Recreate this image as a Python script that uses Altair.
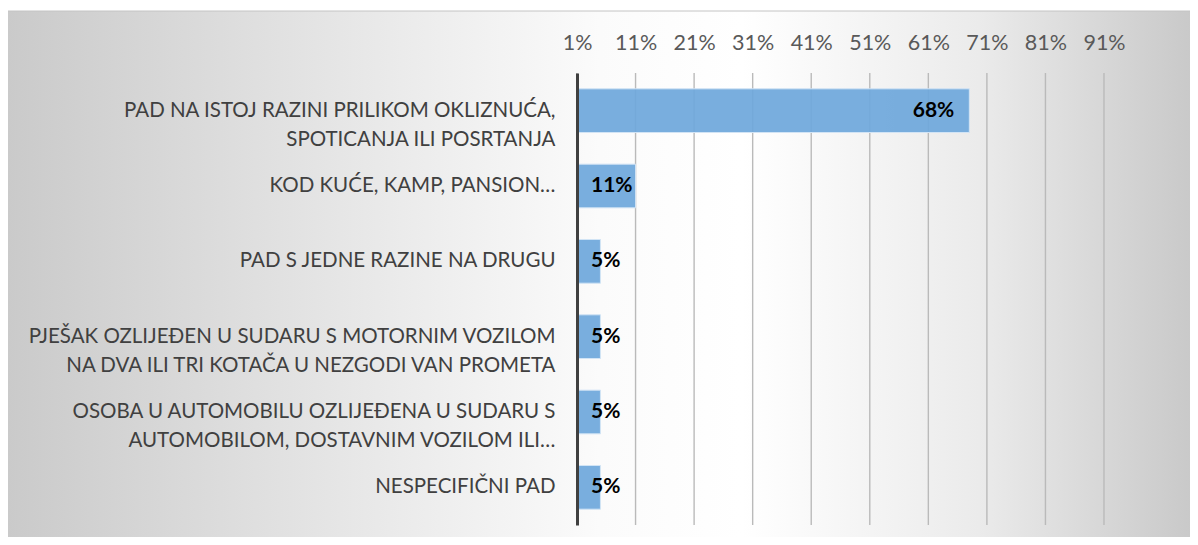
import altair as alt
import pandas as pd

# ---- data ----
categories = [
    "PAD NA ISTOJ RAZINI PRILIKOM OKLIZNUĆA,\nSPOTICANJA ILI POSRTANJA",
    "KOD KUĆE, KAMP, PANSION…",
    "PAD S JEDNE RAZINE NA DRUGU",
    "PJEŠAK OZLIJEĐEN U SUDARU S MOTORNIM VOZILOM\nNA DVA ILI TRI KOTAČA U NEZGODI VAN PROMETA",
    "OSOBA U AUTOMOBILU OZLIJEĐENA U SUDARU S\nAUTOMOBILOM, DOSTAVNIM VOZILOM ILI…",
    "NESPECIFIČNI PAD",
]
values = [68, 11, 5, 5, 5, 5]
tick_values = [1, 11, 21, 31, 41, 51, 61, 71, 81, 91]
axis_min = 1
axis_max = 91

df = pd.DataFrame({"category": categories, "value": values})
ticks_df = pd.DataFrame({"tick": tick_values})
one_df = pd.DataFrame({"k": [0]})

FONT = "Lato"
W, H = 527, 452
PL, PT, PR, PB = 569, 65, 86, 12

xscale = alt.Scale(domain=[axis_min, axis_max], nice=False, zero=False)
yscale = alt.Scale(domain=categories, paddingInner=0.42, paddingOuter=0.21)

x_axis = alt.Axis(
    orient="top", values=tick_values, labelExpr="datum.value + '%'",
    grid=False, domain=False, ticks=False, tickSize=0, title=None,
    labelFont=FONT, labelFontSize=21.5, labelColor="#595959",
    labelPadding=24, labelBaseline="alphabetic", labelFlush=False, zindex=1,
)
y_axis = alt.Axis(
    title=None, domain=True, domainColor="#404040", domainWidth=3,
    ticks=False, tickSize=0, grid=False,
    labelExpr="split(datum.label, '\\n')",
    labelFont=FONT, labelFontSize=20.5, labelColor="#404040",
    labelPadding=22, labelLineHeight=29, labelLimit=0, zindex=1,
)

bg_fill = alt.LinearGradient(
    gradient="linear",
    stops=[
        alt.GradientStop(offset=0.0, color="#cacaca"),
        alt.GradientStop(offset=0.25, color="#e3e3e3"),
        alt.GradientStop(offset=0.5, color="#fbfbfb"),
        alt.GradientStop(offset=0.62, color="#ffffff"),
        alt.GradientStop(offset=0.82, color="#ebebeb"),
        alt.GradientStop(offset=1.0, color="#c9c9c9"),
    ],
    x1=0, x2=1, y1=0.5, y2=0.5,
)

bg = alt.Chart(one_df).mark_rect(fill=bg_fill, stroke="#c4c4c4", strokeWidth=1).encode(
    x=alt.value(-PL - 1), x2=alt.value(W + PR + 2),
    y=alt.value(-PT + 3), y2=alt.value(H + PB + 2),
)

grid = alt.Chart(ticks_df).mark_rule(color="#bababa", strokeWidth=1.4).encode(
    x=alt.X("tick:Q", scale=xscale, axis=x_axis),
)

base = alt.Chart(df)

bars = base.mark_bar(color="#6fa8dc", fillOpacity=0.93, stroke="#d2e4f5", strokeWidth=1).encode(
    x=alt.X("value:Q", scale=xscale, axis=x_axis),
    x2=alt.datum(axis_min),
    y=alt.Y("category:N", scale=yscale, sort=categories, axis=y_axis),
)

labels_big = base.transform_filter("datum.value >= 20").transform_calculate(
    lbl="datum.value + '%'"
).mark_text(align="right", baseline="middle", dx=-15, font=FONT, fontSize=21,
            fontWeight="bold", color="#000000").encode(
    x=alt.X("value:Q", scale=xscale, axis=x_axis),
    y=alt.Y("category:N", scale=yscale, sort=categories, axis=y_axis),
    text="lbl:N",
)

labels_small = base.transform_filter("datum.value < 20").transform_calculate(
    lbl="datum.value + '%'"
).mark_text(align="left", baseline="middle", dx=14, font=FONT, fontSize=21,
            fontWeight="bold", color="#000000").encode(
    x=alt.datum(axis_min, scale=xscale, axis=x_axis),
    y=alt.Y("category:N", scale=yscale, sort=categories, axis=y_axis),
    text="lbl:N",
)

chart = alt.layer(bg, grid, bars, labels_big, labels_small).properties(
    width=W, height=H,
    autosize=alt.AutoSizeParams(type="none"),
    padding={"left": PL, "top": PT, "right": PR, "bottom": PB},
    background="#ffffff",
).configure_view(stroke=None)

chart.save("out.html", embed_options={"renderer": "svg", "actions": False})
